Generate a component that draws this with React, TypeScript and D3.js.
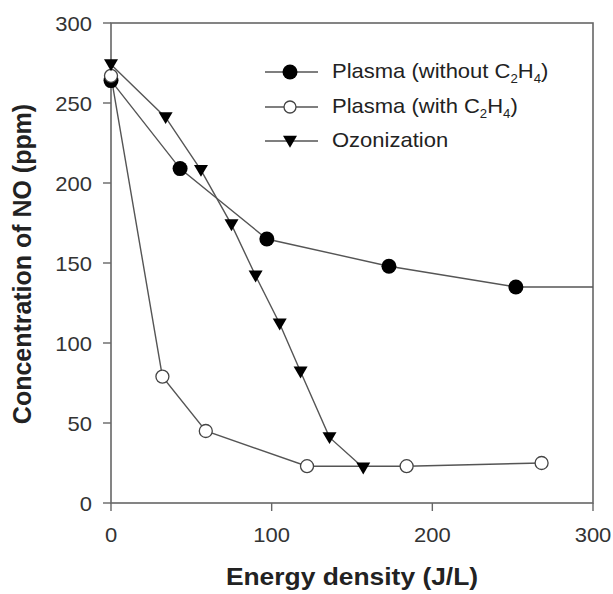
import React from "react";
import * as d3 from "d3";

const plasmaNoC2H4X = [0, 43, 97, 173, 252, 300];
const plasmaNoC2H4Y = [264, 209, 165, 148, 135, 135];
const plasmaNoC2H4Markers = [true, true, true, true, true, false];

const plasmaC2H4X = [0, 32, 59, 122, 184, 268];
const plasmaC2H4Y = [267, 79, 45, 23, 23, 25];

const ozoneX = [0, 34, 56, 75, 90, 105, 118, 136, 157];
const ozoneY = [274, 241, 208, 174, 142, 112, 82, 41, 22];

const xTicks = [0, 100, 200, 300];
const yTicks = [0, 50, 100, 150, 200, 250, 300];

const W = 613;
const H = 594;
const left = 111;
const right = 593;
const top = 23;
const bottom = 503;

const FONT = "'Liberation Sans', Arial, sans-serif";
const AXIS = "#666";
const LINE = "#555";
const SX = 1.1;

function tri(cx: number, cy: number, s: number) {
  return `M${cx - s},${cy - s * 0.75} L${cx + s},${cy - s * 0.75} L${cx},${cy + s * 0.95} Z`;
}

export default function App() {
  const x = d3.scaleLinear().domain([0, 300]).range([left, right]);
  const y = d3.scaleLinear().domain([0, 300]).range([bottom, top]);
  const line = d3.line<[number, number]>().x((d) => x(d[0])).y((d) => y(d[1]));

  const s1 = plasmaNoC2H4X.map((v, i) => [v, plasmaNoC2H4Y[i]] as [number, number]);
  const s2 = plasmaC2H4X.map((v, i) => [v, plasmaC2H4Y[i]] as [number, number]);
  const s3 = ozoneX.map((v, i) => [v, ozoneY[i]] as [number, number]);

  const legend = [
    { label: "Plasma (without ", sub: true, kind: "filled", y: 72 },
    { label: "Plasma (with ", sub: true, kind: "open", y: 107 },
    { label: "Ozonization", sub: false, kind: "tri", y: 141 },
  ];

  return (
    <svg width={W} height={H} style={{ display: "block", position: "absolute", left: 0, top: 0, background: "#fff" }}>
      <rect x={0} y={0} width={W} height={H} fill="#fff" />
      <rect x={left} y={top} width={right - left} height={bottom - top} fill="none" stroke={AXIS} strokeWidth={1.6} />
      {xTicks.map((t) => (
        <g key={"xt" + t}>
          <line x1={x(t)} x2={x(t)} y1={bottom} y2={bottom + 8} stroke={AXIS} strokeWidth={1.4} />
          <g transform={`translate(${x(t)},${bottom + 39}) scale(${SX},1)`}>
            <text x={0} y={0} textAnchor="middle" fontFamily={FONT} fontSize={20} fill="#333">
              {t}
            </text>
          </g>
        </g>
      ))}
      {yTicks.map((t) => (
        <g key={"yt" + t}>
          <line x1={left - 8} x2={left} y1={y(t)} y2={y(t)} stroke={AXIS} strokeWidth={1.4} />
          <g transform={`translate(${left - 19},${y(t) + 8}) scale(${SX},1)`}>
            <text x={0} y={0} textAnchor="end" fontFamily={FONT} fontSize={20} fill="#333">
              {t}
            </text>
          </g>
        </g>
      ))}
      <g transform={`translate(352,585) scale(${SX},1)`}>
        <text x={0} y={0} textAnchor="middle" fontFamily={FONT} fontSize={24} fontWeight="bold" fill="#222">
          Energy density (J/L)
        </text>
      </g>
      <g transform={`translate(31,${(top + bottom) / 2 + 1}) rotate(-90) scale(1.04,1.1)`}>
        <text x={0} y={0} textAnchor="middle" fontFamily={FONT} fontSize={24} fontWeight="bold" fill="#222">
          Concentration of NO (ppm)
        </text>
      </g>
      <path d={line(s1) || ""} fill="none" stroke={LINE} strokeWidth={1.4} />
      <path d={line(s2) || ""} fill="none" stroke={LINE} strokeWidth={1.4} />
      <path d={line(s3) || ""} fill="none" stroke={LINE} strokeWidth={1.4} />
      {s1.map((d, i) =>
        plasmaNoC2H4Markers[i] ? <circle key={"a" + i} cx={x(d[0])} cy={y(d[1])} r={7.5} fill="#000" /> : null
      )}
      {s2.map((d, i) => (
        <circle key={"b" + i} cx={x(d[0])} cy={y(d[1])} r={6.5} fill="#fff" stroke="#444" strokeWidth={1.3} />
      ))}
      {s3.map((d, i) => (
        <path key={"c" + i} d={tri(x(d[0]), y(d[1]), 7)} fill="#000" />
      ))}
      {legend.map((l) => (
        <g key={l.label}>
          <line x1={265} x2={318} y1={l.y} y2={l.y} stroke={LINE} strokeWidth={1.4} />
          {l.kind === "filled" && <circle cx={290} cy={l.y} r={7.5} fill="#000" />}
          {l.kind === "open" && <circle cx={290} cy={l.y} r={6} fill="#fff" stroke="#444" strokeWidth={1.3} />}
          {l.kind === "tri" && <path d={tri(290, l.y, 7)} fill="#000" />}
          <g transform={`translate(332,${l.y + 6}) scale(${SX},1)`}>
            <text x={0} y={0} fontFamily={FONT} fontSize={20} fill="#222">
              {l.label}
              {l.sub && (
                <>
                  C<tspan fontSize={12} dy={5}>2</tspan>
                  <tspan dy={-5}>H</tspan>
                  <tspan fontSize={12} dy={5}>4</tspan>
                  <tspan dy={-5}>)</tspan>
                </>
              )}
            </text>
          </g>
        </g>
      ))}
    </svg>
  );
}
